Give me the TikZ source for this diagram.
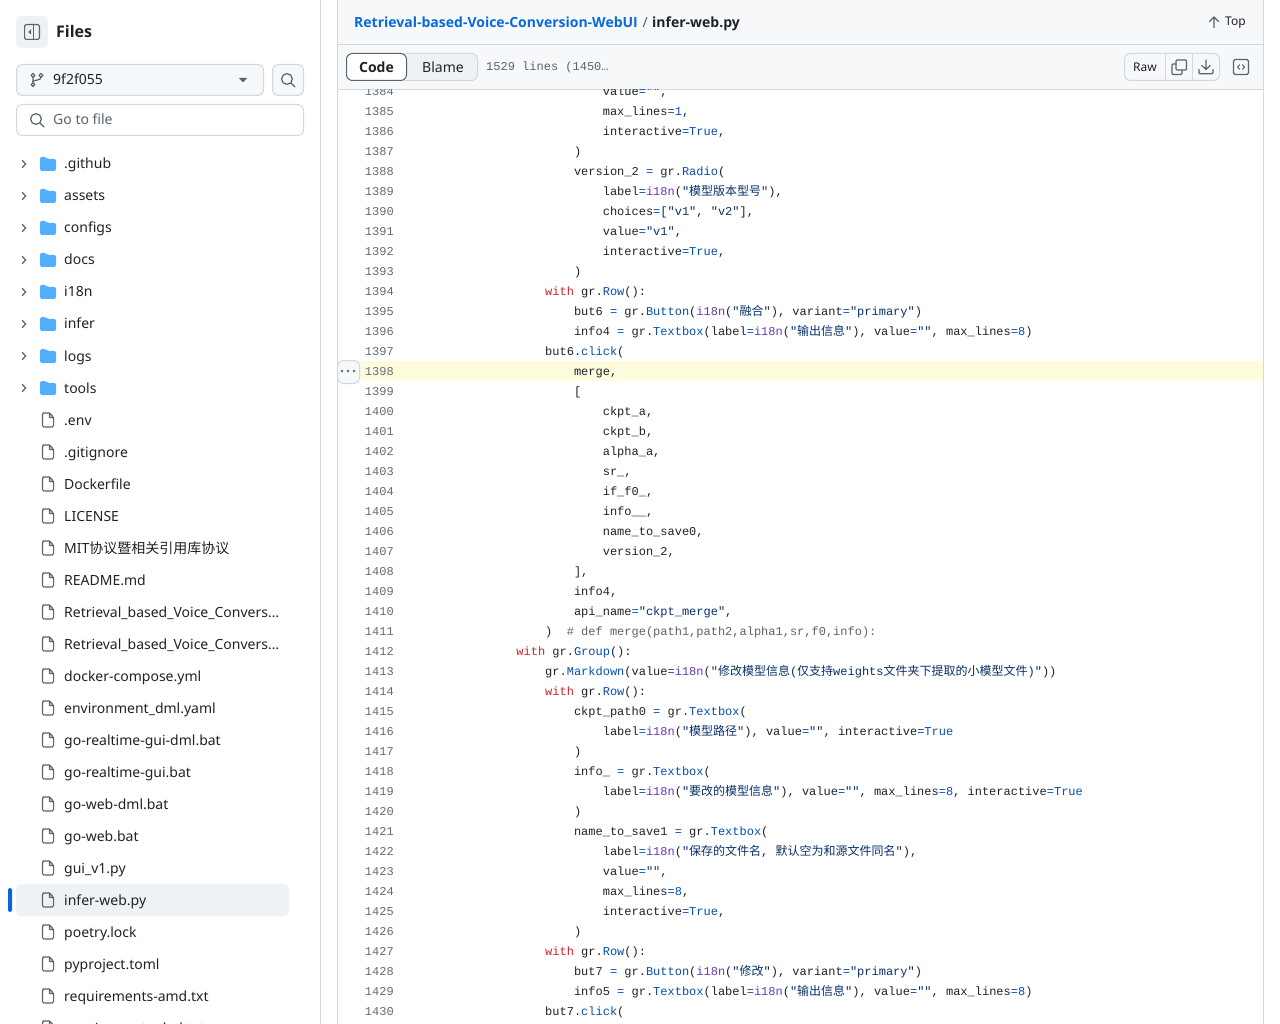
\documentclass[tikz,border=0pt]{standalone}
\usepackage{fontspec}
\setmainfont{Noto Sans}
\setmonofont{Liberation Mono}
\newfontfamily\cjk{Noto Sans CJK SC}
\newfontfamily\uibold{Open Sans}
\definecolor{fg}{HTML}{1F2328}
\definecolor{muted}{HTML}{59636E}
\definecolor{lineno}{HTML}{636C76}
\definecolor{bord}{HTML}{D1D9E0}
\definecolor{panel}{HTML}{F6F8FA}
\definecolor{tab}{HTML}{EFF2F5}
\definecolor{linkc}{HTML}{0969DA}
\definecolor{kw}{HTML}{CF222E}
\definecolor{fnc}{HTML}{0550AE}
\definecolor{pur}{HTML}{6639BA}
\definecolor{strc}{HTML}{0A3069}
\definecolor{hl}{HTML}{FFFBDD}
\definecolor{folderc}{HTML}{54AEFF}
\newcommand\K[1]{\textcolor{kw}{#1}}
\newcommand\F[1]{\textcolor{fnc}{#1}}
\newcommand\I{\textcolor{pur}{i18n}}
\newcommand\St[1]{\textcolor{strc}{#1}}
\newcommand\Cm[1]{\textcolor{muted}{#1}}
\newcommand\Eq{\textcolor{fnc}{=}}
\newcommand\Tr{\textcolor{fnc}{True}}
\newcommand\cj[1]{{\cjk #1}}
\tikzset{
  x=1pt,y=-1pt,
  uitext/.style={inner sep=0,text=fg,font=\fontsize{14}{17}\selectfont},
  uibd/.style={inner sep=0,text=fg,font=\uibold\bfseries\fontsize{14}{17}\selectfont},
  codetext/.style={inner sep=0,anchor=base west,text=fg,font=\ttfamily\fontsize{12}{14}\selectfont},
  lnum/.style={inner sep=0,anchor=base east,text=lineno,font=\ttfamily\fontsize{12}{14}\selectfont},
  btn/.style={draw=bord,fill=panel,line width=1pt,rounded corners=6pt},
  rule/.style={draw=bord,line width=1pt},
  icon/.style={draw=muted,line width=1.2pt,line cap=round,line join=round},
  fileicon/.pic={
    \draw[icon] (1.5,-7) -- (-5,-7) [rounded corners=1.5pt] -- (-5.6,-7) -- (-5.6,7) -- (5.6,7) -- (5.6,-2.5) [sharp corners] -- (1.5,-7) -- (1.5,-2.5) -- (5.6,-2.5);
  },
  foldericon/.pic={
    \fill[folderc,rounded corners=1.5pt] (-8,-7) -- (-2.5,-7) -- (-0.5,-5) -- (8,-5) -- (8,7) -- (-8,7) -- cycle;
  },
  chevron/.pic={
    \draw[icon] (-1.8,-3.6) -- (1.8,0) -- (-1.8,3.6);
  },
  searchicon/.pic={
    \draw[icon] (-1,-1) circle (5.4) (3,3) -- (7,7);
  },
}
\newcommand\cl[3]{%
  \node[lnum] (n#1) at (394,{(#1-1385)*20+115.4}) {#1};
  \node[codetext] (c#1) at ({401+7.2*#2},{(#1-1385)*20+115.4}) {#3};
}
\begin{document}
\begin{tikzpicture}
\useasboundingbox (0,0) rectangle (1280,1024);
\fill[white] (0,0) rectangle (1280,1024);
% ---------- sidebar
\draw[rule] (320.5,0) -- (320.5,1024);
\node[fill=tab,rounded corners=6pt,minimum width=32pt,minimum height=32pt,inner sep=0] (toggle) at (32,32) {};
\draw[icon,rounded corners=1.5pt] (24.6,24.6) rectangle (39.4,39.4);
\draw[icon] (33.7,24.6) -- (33.7,39.4);
\fill[muted] (31,29.5) -- (31,34.5) -- (28.2,32) -- cycle;
\node[uibd,anchor=base west,font=\uibold\bfseries\fontsize{16}{19}\selectfont] (files) at (56,37.6) {Files};
\draw[btn] (16.5,64.5) rectangle (263.5,95.5);
\node[uitext,anchor=base west] (branch) at (53,85) {9f2f055};
\draw[icon] (33,75.3) circle (1.9) (33,84.7) circle (1.9) (41,75.3) circle (1.9) (33,77.2) -- (33,82.8);
\draw[icon] (41,77.2) .. controls (41,81) and (34,79.5) .. (33,81.5);
\fill[muted] (239,78) -- (247,78) -- (243,82.5) -- cycle;
\draw[btn] (272.5,64.5) rectangle (303.5,95.5);
\pic at (288,80) {searchicon};
\draw[btn,fill=white] (16.5,104.5) rectangle (303.5,135.5);
\pic at (37,120) {searchicon};
\node[uitext,anchor=base west,text=muted] (goto) at (53,125) {Go to file};
% selected row
\fill[tab,rounded corners=6pt] (16,884) rectangle (289,916);
\fill[linkc,rounded corners=2pt] (8,888) rectangle (12,912);
\foreach \t [count=\i from 0] in {.github,assets,configs,docs,i18n,infer,logs,tools}{
  \pic at (24,{164+32*\i}) {chevron};
  \pic at (48,{164+32*\i}) {foldericon};
  \node[uitext,anchor=base west] (d\i) at (64,{169+32*\i}) {\t};
}
\begin{scope}
\clip (0,0) rectangle (320,1024);
\foreach \t [count=\i from 8] in {.env,.gitignore,Dockerfile,LICENSE,MIT\cj{协议暨相关引用库协议},README.md,Retrieval\_based\_Voice\_Convers…,Retrieval\_based\_Voice\_Convers…,docker-compose.yml,environment\_dml.yaml,go-realtime-gui-dml.bat,go-realtime-gui.bat,go-web-dml.bat,go-web.bat,gui\_v1.py,infer-web.py,poetry.lock,pyproject.toml,requirements-amd.txt,requirements-dml.txt}{
  \pic at (48,{164+32*\i}) {fileicon};
  \node[uitext,anchor=base west] (f\i) at (64,{169+32*\i}) {\t};
}
\end{scope}
% ---------- main panel header
\fill[panel] (338,0) rectangle (1263,89);
\draw[rule] (337.5,0) -- (337.5,1024);
\draw[rule] (1263.5,0) -- (1263.5,1024);
\draw[rule] (338,44.5) -- (1263,44.5);
\draw[rule] (338,89.5) -- (1263,89.5);
\node[uibd,anchor=base west,text=linkc] (repo) at (354,28) {Retrieval-based-Voice-Conversion-WebUI};
\node[uitext,anchor=base west,text=muted] (slash) at (642.5,28) {/};
\node[uibd,anchor=base west] (fname) at (652,28) {infer-web.py};
\draw[icon] (1214,27.5) -- (1214,17) (1209.5,21.5) -- (1214,17) -- (1218.5,21.5);
\node[uitext,anchor=base west,font=\fontsize{12}{14}\selectfont] (top) at (1225,26) {Top};
% tabs
\draw[btn,fill=tab] (400,53.5) rectangle (477.5,80.5);
\draw[draw=muted,fill=white,line width=1pt,rounded corners=6pt] (346.5,53.5) rectangle (406.5,80.5);
\node[uibd,anchor=base] (code) at (376.5,73) {Code};
\node[uitext,anchor=base] (blame) at (443,73) {Blame};
\node[inner sep=0,anchor=base west,text=muted,font=\ttfamily\fontsize{12}{14}\selectfont] (loc) at (486,70.4) {1529 lines (1450…};
% raw group
\draw[btn] (1124.5,53.5) rectangle (1219.5,80.5);
\draw[rule] (1165.5,53.5) -- (1165.5,80.5) (1192.5,53.5) -- (1192.5,80.5);
\node[uitext,anchor=base,font=\fontsize{12}{14}\selectfont] (raw) at (1145,71.5) {Raw};
\draw[icon,rounded corners=1pt] (1176,60) rectangle (1186.5,70);
\draw[icon,rounded corners=1pt] (1176,64) -- (1172,64) -- (1172,74.5) -- (1182,74.5) -- (1182,70);
\draw[icon] (1206,60) -- (1206,69.5) (1201.8,65.5) -- (1206,69.5) -- (1210.2,65.5);
\draw[icon,rounded corners=1pt] (1199,69.5) -- (1199,73.8) -- (1213,73.8) -- (1213,69.5);
\draw[icon,rounded corners=1.5pt] (1233.5,59.5) rectangle (1248.5,74.5);
\draw[icon,line width=1pt] (1239.5,64.8) -- (1237.5,67) -- (1239.5,69.2) (1242.5,64.8) -- (1244.5,67) -- (1242.5,69.2);
% ---------- code
\fill[hl] (338,361) rectangle (1263,381);
\begin{scope}
\clip (338,90) rectangle (1263,1024);
\cl{1384}{28}{value\Eq\St{""},}
\cl{1385}{28}{max\_lines\Eq\F{1},}
\cl{1386}{28}{interactive\Eq\Tr,}
\cl{1387}{24}{)}
\cl{1388}{24}{version\_2 \Eq{} gr.\F{Radio}(}
\cl{1389}{28}{label\Eq\I(\St{"\cj{模型版本型号}"}),}
\cl{1390}{28}{choices\Eq[\St{"v1"}, \St{"v2"}],}
\cl{1391}{28}{value\Eq\St{"v1"},}
\cl{1392}{28}{interactive\Eq\Tr,}
\cl{1393}{24}{)}
\cl{1394}{20}{\K{with} gr.\F{Row}():}
\cl{1395}{24}{but6 \Eq{} gr.\F{Button}(\I(\St{"\cj{融合}"}), variant\Eq\St{"primary"})}
\cl{1396}{24}{info4 \Eq{} gr.\F{Textbox}(label\Eq\I(\St{"\cj{输出信息}"}), value\Eq\St{""}, max\_lines\Eq\F{8})}
\cl{1397}{20}{but6.\F{click}(}
\cl{1398}{24}{merge,}
\cl{1399}{24}{[}
\cl{1400}{28}{ckpt\_a,}
\cl{1401}{28}{ckpt\_b,}
\cl{1402}{28}{alpha\_a,}
\cl{1403}{28}{sr\_,}
\cl{1404}{28}{if\_f0\_,}
\cl{1405}{28}{info\_\_,}
\cl{1406}{28}{name\_to\_save0,}
\cl{1407}{28}{version\_2,}
\cl{1408}{24}{],}
\cl{1409}{24}{info4,}
\cl{1410}{24}{api\_name\Eq\St{"ckpt\_merge"},}
\cl{1411}{20}{)\ \ \Cm{\# def merge(path1,path2,alpha1,sr,f0,info):}}
\cl{1412}{16}{\K{with} gr.\F{Group}():}
\cl{1413}{20}{gr.\F{Markdown}(value\Eq\I(\St{"\cj{修改模型信息}(\cj{仅支持}weights\cj{文件夹下提取的小模型文件})"}))}
\cl{1414}{20}{\K{with} gr.\F{Row}():}
\cl{1415}{24}{ckpt\_path0 \Eq{} gr.\F{Textbox}(}
\cl{1416}{28}{label\Eq\I(\St{"\cj{模型路径}"}), value\Eq\St{""}, interactive\Eq\Tr}
\cl{1417}{24}{)}
\cl{1418}{24}{info\_ \Eq{} gr.\F{Textbox}(}
\cl{1419}{28}{label\Eq\I(\St{"\cj{要改的模型信息}"}), value\Eq\St{""}, max\_lines\Eq\F{8}, interactive\Eq\Tr}
\cl{1420}{24}{)}
\cl{1421}{24}{name\_to\_save1 \Eq{} gr.\F{Textbox}(}
\cl{1422}{28}{label\Eq\I(\St{"\cj{保存的文件名}, \cj{默认空为和源文件同名}"}),}
\cl{1423}{28}{value\Eq\St{""},}
\cl{1424}{28}{max\_lines\Eq\F{8},}
\cl{1425}{28}{interactive\Eq\Tr,}
\cl{1426}{24}{)}
\cl{1427}{20}{\K{with} gr.\F{Row}():}
\cl{1428}{24}{but7 \Eq{} gr.\F{Button}(\I(\St{"\cj{修改}"}), variant\Eq\St{"primary"})}
\cl{1429}{24}{info5 \Eq{} gr.\F{Textbox}(label\Eq\I(\St{"\cj{输出信息}"}), value\Eq\St{""}, max\_lines\Eq\F{8})}
\cl{1430}{20}{but7.\F{click}(}
\end{scope}
% line menu
\draw[btn] (337.5,360.5) rectangle (359.5,383.5);
\fill[muted] (342,371) circle (1.4) (348,371) circle (1.4) (354,371) circle (1.4);
\end{tikzpicture}
\end{document}
